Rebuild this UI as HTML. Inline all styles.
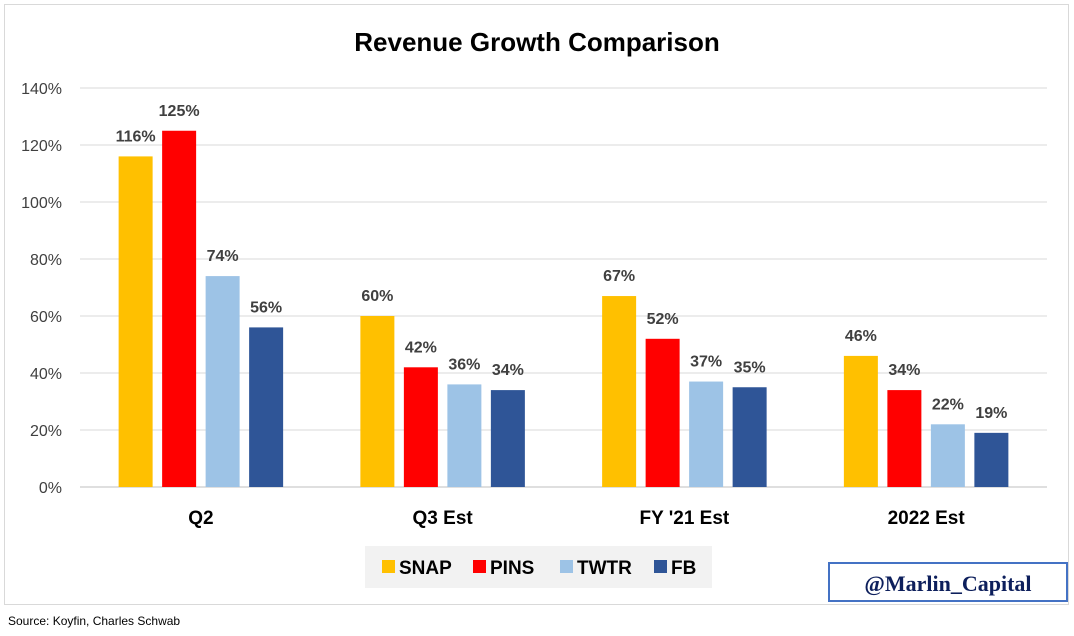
<!DOCTYPE html>
<html><head><meta charset="utf-8"><style>
body{margin:0;background:#fff;font-family:"Liberation Sans",sans-serif;}
</style></head><body>
<svg width="1074" height="631" xmlns="http://www.w3.org/2000/svg">
<rect x="4.5" y="4.5" width="1064" height="600" fill="#fff" stroke="#d9d9d9"/>
<text x="537" y="51" text-anchor="middle" font-size="26" font-weight="bold" fill="#000">Revenue Growth Comparison</text>
<g id="grid"></g>
<g id="bars"></g>
<g>
<rect x="365" y="546" width="347" height="42" fill="#f2f2f2"/>
<g id="legend"></g>
</g>
<rect x="829" y="563" width="238" height="38" fill="#fff" stroke="#4472c4" stroke-width="2"/>
<text x="948" y="591" text-anchor="middle" font-family="Liberation Serif,serif" font-size="22" font-weight="bold" fill="#0d1f5c">@Marlin_Capital</text>
<text x="8" y="625" font-size="12" fill="#000">Source: Koyfin, Charles Schwab</text>
</svg>
<script>
const categories=["Q2","Q3 Est","FY '21 Est","2022 Est"];
const series=["SNAP","PINS","TWTR","FB"];
const colors=["#ffc000","#ff0000","#9dc3e6","#2f5597"];
const snap=[116,60,67,46];
const pins=[125,42,52,34];
const twtr=[74,36,37,22];
const fb=[56,34,35,19];
const ticks=[0,20,40,60,80,100,120,140];
const values=[snap,pins,twtr,fb];
const NS="http://www.w3.org/2000/svg";
const x0=80,x1=1047,y0=487,yTop=88;
const y=v=>y0-(v/140)*(y0-yTop);
const gw=(x1-x0)/categories.length;
const grid=document.getElementById('grid'),bars=document.getElementById('bars'),leg=document.getElementById('legend');
function mk(tag,attrs,parent,txt){const e=document.createElementNS(NS,tag);for(const k in attrs)e.setAttribute(k,attrs[k]);if(txt!==undefined)e.textContent=txt;parent.appendChild(e);return e;}
ticks.forEach(t=>{
 const l=mk('line',{x1:x0,x2:x1,y1:y(t),y2:y(t),stroke:t===0?'#bfbfbf':'#d9d9d9','stroke-width':1},grid);
 
 
 const tx=mk('text',{x:62,y:y(t)+6,'text-anchor':'end','font-size':16,fill:'#404040'},grid,t+'%');
 
 
});
const bw=34,step=43.5;
categories.forEach((c,ci)=>{
 const cx=x0+gw*(ci+0.5);
 values.forEach((arr,si)=>{
  const bx=cx+(si-1.5)*step-bw/2;
  const v=arr[ci];
  const r=mk('rect',{x:bx,y:y(v),width:bw,height:y0-y(v),fill:colors[si]},bars);
  
  
  const lt=mk('text',{x:bx+bw/2,y:y(v)-15,'text-anchor':'middle','font-size':16,'font-weight':'bold',fill:'#404040'},bars,v+'%');
  
  
 });
 const ct=mk('text',{x:cx,y:524,'text-anchor':'middle','font-size':19,'font-weight':'bold',fill:'#000'},bars,c);
 
 
});
const lx=[382,473,560,654];
series.forEach((s,i)=>{
 const g=mk('g',{},leg);
 
 
 mk('rect',{x:lx[i],y:560,width:13,height:13,fill:colors[i]},g);
 mk('text',{x:lx[i]+17,y:574,'font-size':19,'font-weight':'bold',fill:'#000'},g,s);
});
</script>
</body></html>
